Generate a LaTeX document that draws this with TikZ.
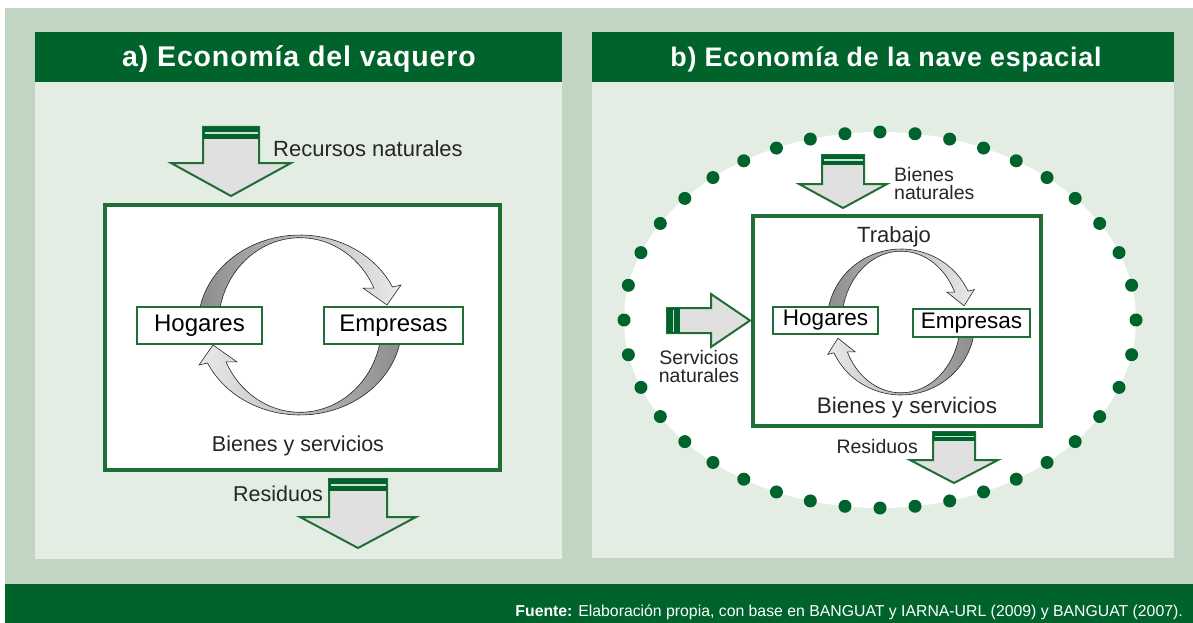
\documentclass[tikz,border=0pt]{standalone}
\usepackage{fontspec}
\setmainfont{Liberation Sans}
\newfontfamily\titlefont[LetterSpace=3]{Liberation Sans}
\usepackage{tikz}
\usetikzlibrary{positioning}
\definecolor{darkgreen}{HTML}{00632C}
\definecolor{boxgreen}{HTML}{1F6E35}
\definecolor{outerbg}{HTML}{C1D5C2}
\definecolor{panelbg}{HTML}{E3EDE4}
\definecolor{arrowgray}{HTML}{E0E0E0}
\newcommand{\fsz}[1]{\fontsize{#1}{#1}\selectfont}
\newcommand{\flowarrow}[8]{%
    % #1=options, #2=x, #3=y (tail), #4=shaft half width, #5=shaft length,
    % #6=head half width, #7=head length, #8=band depth
    \begin{scope}[shift={(#2,#3)}, #1]
        \draw[arrowbody] (-#4,0) -- (#4,0) -- (#4,#5) -- (#6,#5) -- (0,#5+#7) -- (-#6,#5) -- (-#4,#5) -- cycle;
        \fill[darkgreen] (-#4,0) rectangle (#4,#8);
        \draw[bandline] (-#4+1.5,#8/2) -- (#4-1.5,#8/2);
    \end{scope}
}
\newcommand{\cyclearrows}[4]{%
    % #1=x, #2=y, #3=x radius, #4=y radius
    \begin{scope}[shift={(#1,#2)}, x=#3pt, y=#4pt]
        \foreach \turn/\ang in {0/90, 180/-90}{
            \begin{scope}[rotate=\turn]
                \path[ringarrow, top color=black!45, bottom color=black!8, shading angle=\ang]
                    plot[domain=180:25, samples=40, variable=\t] ({cos(\t)}, {sin(\t)})
                    -- (0.99,0.444) -- (0.853,0.222) -- (0.618,0.41)
                    -- plot[domain=25:180, samples=40, variable=\t] ({0.8*cos(\t)}, {0.97*sin(\t)})
                    -- cycle;
            \end{scope}
        }
    \end{scope}
}

\begin{document}
\begin{tikzpicture}[x=1pt, y=-1pt,
    arrowbody/.style={draw=boxgreen, line width=2pt, fill=arrowgray, line join=miter},
    bandline/.style={draw=white!80!darkgreen, line width=1.5pt},
    ringarrow/.style={draw=black!85, line width=0.6pt},
    statebox/.style={draw=boxgreen, line width=2pt, fill=white, inner sep=0pt},
    sysbox/.style={draw=boxgreen, line width=4pt, fill=white, inner sep=0pt},
    txt/.style={inner sep=0pt, text=black!85},
    titletxt/.style={inner sep=0pt, text=white, font=\titlefont\bfseries\fsz{28.5}},
    dotring/.style={draw=darkgreen, line width=13pt, line cap=round, dash pattern=on 0pt off 35.08pt}
]
    \useasboundingbox (0,0) rectangle (1193,623);
    \fill[outerbg] (5,8) rectangle (1193,584);
    \fill[darkgreen] (5,584) rectangle (1193,623);
    \node[inner sep=0pt, text=white, font=\fsz{15.8}, anchor=base east] (fuente) at (1183,616)
        {\textbf{Fuente:} Elaboración propia, con base en BANGUAT y IARNA-URL (2009) y BANGUAT (2007).};

    % a) panel
    \fill[panelbg] (35,32) rectangle (562,559);
    \fill[darkgreen] (35,32) rectangle (562,82);
    \node[titletxt, anchor=base] (titlea) at (299,67) {a) Economía del vaquero};

    \node[sysbox, minimum width=395, minimum height=265] (eco1) at (302.5,337.5) {};
    \cyclearrows{300}{325}{102}{90}
    \node[statebox, minimum width=125, minimum height=37, font=\fsz{24}] (hog1) at (199.5,325.5) {Hogares};
    \node[statebox, minimum width=139, minimum height=37, font=\fsz{24}] (emp1) at (393.5,325.5) {Empresas};
    \node[txt, font=\fsz{21.5}, anchor=base] (bys1) at (298,451) {Bienes y servicios};

    \flowarrow{}{231}{127}{28}{36}{60}{33}{12}
    \node[txt, font=\fsz{22}, anchor=base west] (recursos) at (273,157) {Recursos naturales};
    \flowarrow{}{358}{479}{29}{38}{58}{31}{12}
    \node[txt, font=\fsz{21.5}, anchor=base east] (resid1) at (323,501) {Residuos};

    % b) panel
    \fill[panelbg] (592,32) rectangle (1174,558);
    \fill[darkgreen] (592,32) rectangle (1174,82);
    \node[titletxt, font=\titlefont\bfseries\fsz{26.8}, anchor=base] (titleb) at (886,67) {b) Economía de la nave espacial};

    \fill[white] (880,320) ellipse [x radius=256, y radius=188];
    \draw[dotring] (880,320) ellipse [x radius=256, y radius=188];

    \node[sysbox, minimum width=288, minimum height=210] (eco2) at (897,321) {};
    \cyclearrows{901}{322}{74}{73}
    \node[statebox, minimum width=105, minimum height=27, font=\fsz{22.5}] (hog2) at (825.5,320.5) {Hogares};
    \node[statebox, minimum width=117, minimum height=28, font=\fsz{22.5}] (emp2) at (971.5,323) {Empresas};
    \node[txt, font=\fsz{22}, anchor=base] (trabajo) at (894,242) {Trabajo};
    \node[txt, font=\fsz{22.5}, anchor=base] (bys2) at (907,413) {Bienes y servicios};

    \flowarrow{}{843}{155}{21}{29}{44}{24}{10}
    \node[txt, font=\fontsize{19.5}{18}\selectfont, align=left, anchor=north west] (bienesnat) at (894,167) {Bienes\\naturales};
    \flowarrow{rotate=90}{667}{320.5}{12.5}{44}{26.5}{39}{13}
    \node[txt, font=\fontsize{19.5}{18}\selectfont, align=center, anchor=north] (servnat) at (699,350) {Servicios\\naturales};
    \flowarrow{}{954}{432}{21}{28}{44}{23}{9}
    \node[txt, font=\fsz{19.5}, anchor=base east] (resid2) at (918,453) {Residuos};
\end{tikzpicture}
\end{document}
